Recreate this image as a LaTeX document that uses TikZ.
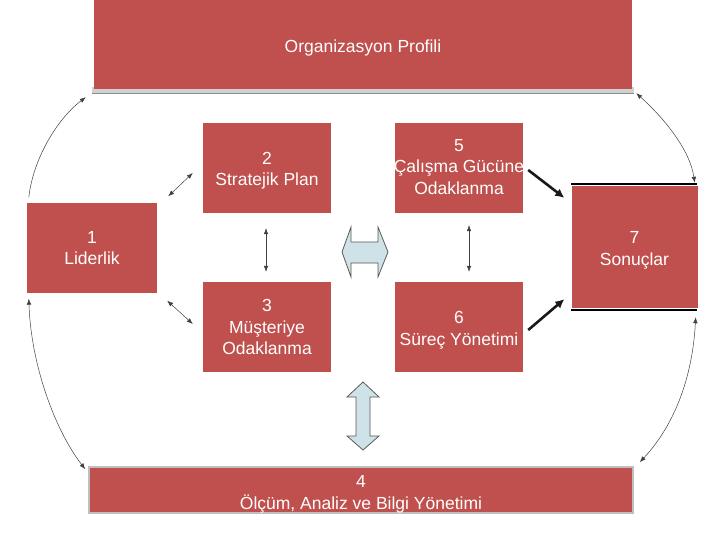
\documentclass[tikz,border=0pt]{standalone}
\usepackage{fontspec}
\setmainfont{Liberation Sans}
\usetikzlibrary{arrows.meta,calc}
\definecolor{boxred}{HTML}{C0504D}
\definecolor{arrowblue}{HTML}{CFE2E8}
\tikzset{
  redbox/.style={fill=boxred, inner sep=0pt},
  boxtext/.style={text=white, align=center, inner sep=0pt,
    font=\fontsize{17.5}{21.5}\selectfont},
  thinarc/.style={draw=black!75, line width=0.5pt, {Latex[length=6pt,width=4.5pt]}-{Latex[length=6pt,width=4.5pt]}},
  thinarcone/.style={draw=black!75, line width=0.5pt, -{Latex[length=6pt,width=4.5pt]}},
  thickarrow/.style={draw=black!90, line width=2.6pt, -{Latex[length=9pt,width=9pt]}},
  blockarrow/.style={fill=arrowblue, draw=black!65, line width=0.8pt, line join=miter}
}
\begin{document}
\begin{tikzpicture}[x=1pt,y=-1pt]
\useasboundingbox (0,0) rectangle (720,540);
% gray strip under top box
\fill[black!18] (92,87) rectangle (634,93);
\draw[black!45, line width=0.6pt] (92,93) -- (634,93);
\node[redbox, minimum width=538pt, minimum height=89pt] (top) at (363,44.5) {};
\node[boxtext] (ttop) at ($(top)+(0,3.5)$) {Organizasyon Profili};
\node[redbox, minimum width=128pt, minimum height=90pt] (b2) at (267,168) {};
\node[boxtext] (t2) at ($(b2)+(0,2.5)$) {2\\Stratejik Plan};
\node[redbox, minimum width=128pt, minimum height=90pt] (b5) at (459,168) {};
\node[boxtext] (t5) at ($(b5)+(0,-1)$) {5\\Çalışma Gücüne\\Odaklanma};
\node[redbox, minimum width=130pt, minimum height=89pt] (b1) at (92,248) {};
\node[boxtext] (t1) at (b1) {1\\Liderlik};
\node[redbox, minimum width=126pt, minimum height=122pt] (b7) at (634.5,247) {};
\node[boxtext] (t7) at ($(b7)+(0,3.5)$) {7\\Sonuçlar};
\draw[black, line width=1.6pt] (571,184) -- (697,184);
\draw[black, line width=1.6pt] (571,310) -- (697,310);
\node[redbox, minimum width=128pt, minimum height=90pt] (b3) at (267,327) {};
\node[boxtext] (t3) at (b3) {3\\Müşteriye\\Odaklanma};
\node[redbox, minimum width=128pt, minimum height=90pt] (b6) at (459,327) {};
\node[boxtext] (t6) at ($(b6)+(0,3)$) {6\\Süreç Yönetimi};
\node[redbox, draw=black!25, line width=1.6pt, minimum width=544pt, minimum height=46pt] (b4) at (361,490) {};
\node[boxtext] (t4) at ($(b4)+(0,4.5)$) {4\\Ölçüm, Analiz ve Bilgi Yönetimi};

% endpoints of the arcs
\coordinate (lt1) at ($(b1.north west)+(2,-6)$);
\coordinate (lt2) at ($(top.south west)+(-8,8)$);
\coordinate (lb1) at ($(b1.south west)+(2,6)$);
\coordinate (lb2) at ($(b4.north west)+(-3,3)$);
\coordinate (rt1) at ($(top.south east)+(4,4)$);
\coordinate (rt2) at ($(b7.north east)+(-3,-3)$);
\coordinate (rb1) at ($(b7.south east)+(-2,9)$);
\coordinate (rb2) at ($(b4.north east)+(6,-4)$);

\draw[thinarcone] (lt1) .. controls (33,160) and (56,120) .. (lt2);
\draw[thinarc] (lb1) .. controls (31,365) and (55,430) .. (lb2);
\draw[thinarc] (rt1) .. controls (664,118) and (690,150) .. (rt2);
\draw[thinarc] (rb1) .. controls (692,385) and (670,430) .. (rb2);

% small diagonal double arrows
\draw[thinarc] ($(b2.west)+(-10,5)$) -- ($(b1.north east)+(11,-7)$);
\draw[thinarc] ($(b1.south east)+(10,8)$) -- ($(b3.west)+(-10,-3)$);
% vertical double arrows
\draw[thinarc] ($(b2.south)+(-1,15)$) -- ($(b3.north)+(-1,-10)$);
\draw[thinarc] ($(b5.south)+(10,12)$) -- ($(b6.north)+(10,-10)$);

% thick arrows to results
\draw[thickarrow] ($(b5.east)+(5,2)$) -- ($(b7.north west)+(-7,12)$);
\draw[thickarrow] ($(b6.east)+(5,3)$) -- ($(b7.south west)+(-7,-9)$);

% block arrows
\draw[blockarrow] (342,252) -- (351,227) -- (351,242) -- (378,242) -- (378,227) -- (388,252)
  -- (378,277) -- (378,263) -- (351,263) -- (351,277) -- cycle;
\draw[blockarrow] (363,382) -- (379,397) -- (370,397) -- (370,436) -- (379,436) -- (363,450)
  -- (347,436) -- (356,436) -- (356,397) -- (347,397) -- cycle;
\end{tikzpicture}
\end{document}
